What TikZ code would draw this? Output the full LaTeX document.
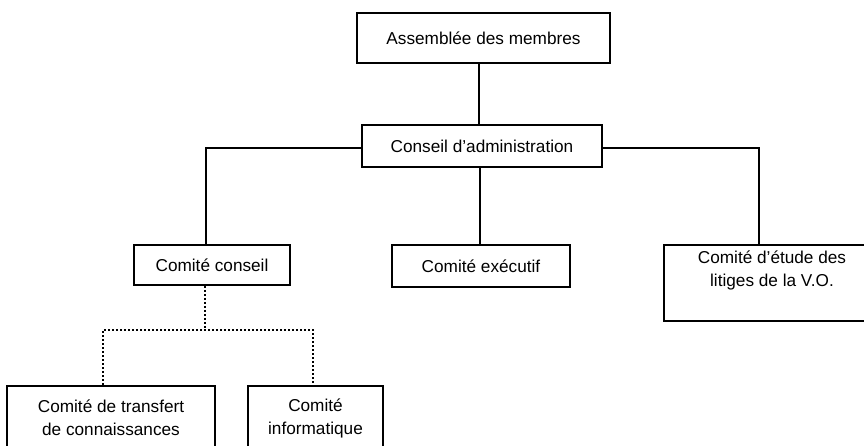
\documentclass[tikz,border=0pt]{standalone}
\usepackage{fontspec}
\setmainfont{Liberation Sans}
\begin{document}
\begin{tikzpicture}[x=1bp,y=-1bp,
  box/.style={draw,line width=2bp,rectangle,inner sep=0pt,
    font=\fontsize{17.2bp}{23bp}\selectfont,align=center},
  txt/.style={inner sep=0pt,font=\fontsize{17.2bp}{23bp}\selectfont,align=center},
  link/.style={line width=2bp},
  dotlink/.style={line width=2bp,dash pattern=on 2bp off 2bp}]
\useasboundingbox (0,0) rectangle (864,446);
\clip (0,0) rectangle (864,446);
\node[box,minimum width=253bp,minimum height=50bp] (A) at (483.5,38) {Assemblée des membres};
\node[box,minimum width=240bp,minimum height=42bp] (B) at (482,146) {Conseil d’administration};
\node[box,minimum width=156bp,minimum height=40bp] (C) at (212,265) {Comité conseil};
\node[box,minimum width=178bp,minimum height=42bp] (X) at (481,266) {Comité exécutif};
\node[box,minimum width=216bp,minimum height=76bp] (D) at (772,283) {};
\node[txt] (Dt) at (772,270) {Comité d’étude des\\litiges de la V.O.};
\node[box,minimum width=208bp,minimum height=64bp] (E) at (111,418) {Comité de transfert\\de connaissances};
\node[box,minimum width=135bp,minimum height=64bp] (F) at (315.5,418) {Comité\\informatique};
\coordinate (bl) at (206,148);
\coordinate (br) at (759,148);
\coordinate (dm) at (205,330);
\coordinate (dl) at (103,330);
\coordinate (dr) at (313,330);
\draw[link] (A.south -| 479,0) -- (B.north -| 479,0);
\draw[link] (B.south -| 480,0) -- (X.north -| 480,0);
\draw[link] (B.west |- bl) -- (bl) -- (C.north -| bl);
\draw[link] (B.east |- br) -- (br) -- (D.north -| br);
\draw[dotlink] (C.south -| dm) -- (dm);
\draw[dotlink] (E.north -| dl) -- (dl) -- (dr) -- (F.north -| dr);
\end{tikzpicture}
\end{document}
